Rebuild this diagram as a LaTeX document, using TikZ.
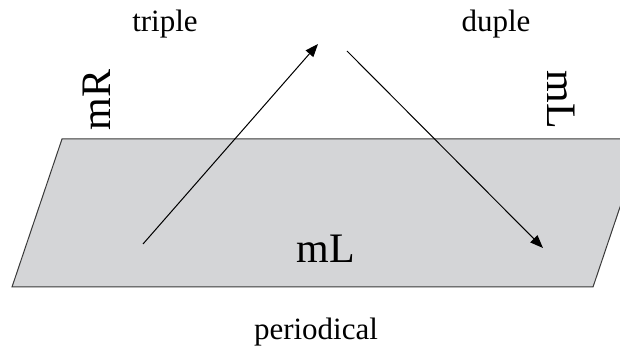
\documentclass[tikz,border=0pt]{standalone}
\usepackage{fontspec}
\setmainfont{Liberation Serif}
\usetikzlibrary{arrows.meta}
\definecolor{planegray}{RGB}{212,213,215}
\definecolor{edgegray}{RGB}{58,58,58}

\begin{document}
\begin{tikzpicture}[x=0.5pt,y=-0.5pt,line width=0.5pt,>={Triangle[length=6.5pt,width=5pt]},
  meter/.style={font=\fontsize{15.5}{18}\selectfont,inner sep=0pt,anchor=base},
  mode/.style={font=\fontsize{21}{25}\selectfont,inner sep=0pt}]
\clip (0,0) rectangle (620,351);
% ---------- grey plane, runs off the right edge ----------
\draw[edgegray,fill=planegray] (62,139) -- (643,139) -- (593,287) -- (12,287) -- cycle;
\node[mode,anchor=base] (planeL) at (326,263) {mL};
% ---------- side labels, turned ----------
\node[mode,rotate=90] (sideR) at (97,100) {mR};
\node[mode,rotate=-90] (sideL) at (561,100) {mL};
% ---------- top and bottom words ----------
\node[meter] (triple) at (165,32) {triple};
\node[meter] (duple) at (496,32) {duple};
\node[meter] (periodical) at (316,340) {periodical};
% ---------- the two arrows ----------
\coordinate (upFrom) at (143,244);
\coordinate (upTo) at (318,44);
\coordinate (downFrom) at (347,51);
\coordinate (downTo) at (543,248);
\draw[->] (upFrom) -- (upTo);
\draw[->] (downFrom) -- (downTo);
\end{tikzpicture}
\end{document}
